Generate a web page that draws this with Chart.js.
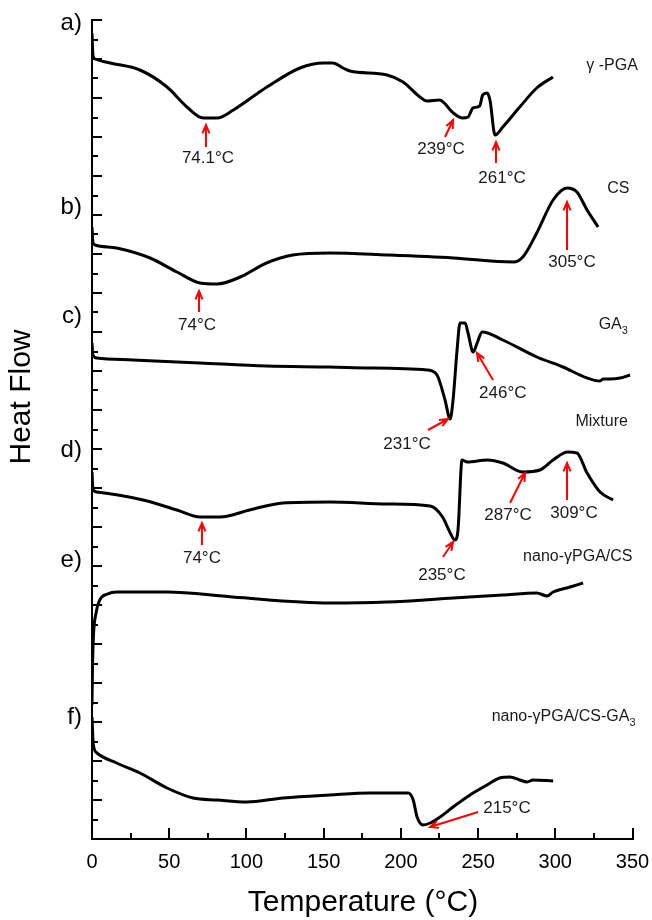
<!DOCTYPE html>
<html>
<head>
<meta charset="utf-8">
<script src="https://cdn.jsdelivr.net/npm/chart.js@4.4.1/dist/chart.umd.min.js"></script>
<style>
  body { margin: 0; background: #fff; }
  canvas { display: block; }
</style>
</head>
<body>
<canvas id="dsc_grafic" width="652" height="920"></canvas>
<script>
// curvas DSC (temperatura em °C, fluxo em unidades arbitrarias, ja deslocadas)
const temp_a = [0, 0.6, 2, 11.7, 31, 48.6, 61.5, 72, 81, 91.5, 113.3, 134.7, 150, 156, 162.5, 167, 191, 201.4, 212.4, 217, 225, 234, 240, 243.5, 246.7, 251, 253, 255.8, 257.7, 261, 266, 277, 288, 298.5];
const fluxo_a = [806, 784, 780, 776, 769, 752, 732, 721, 721, 729, 752, 771, 776, 776, 771, 768, 764, 757, 742, 738, 739, 726, 721, 722, 731, 733, 744, 746, 739, 704, 712, 732, 751, 762];

const temp_b = [0, 0.6, 2, 16, 37.6, 55, 70, 81, 96, 113, 130, 154, 191, 234, 272.7, 279, 288, 298.6, 307.6, 314, 320.6, 327.7];
const fluxo_b = [612, 597, 594, 591, 581, 567, 556, 555, 562, 576, 584, 586, 584, 581, 577, 582, 606, 639, 651, 647, 629, 612];

const temp_c = [0, 0.6, 3.2, 26.6, 70, 113, 154, 180, 217, 223.4, 228.6, 231.9, 233.8, 236.4, 238.3, 241.6, 243.5, 246.8, 249.4, 252.6, 266, 288, 305, 320.6, 329, 331, 335.5, 342, 348.4];
const fluxo_c = [496, 484, 481, 479, 476, 473, 472, 471, 469, 464, 439, 420, 439, 489, 516, 516, 506, 487, 496, 507, 499, 482, 472, 461, 458, 460, 460, 461, 464];

const temp_d = [0, 0.6, 3.2, 33, 55, 70, 83, 102, 123.7, 154, 191, 219, 227, 232, 235, 237, 239.6, 243, 256, 266, 279, 290, 298.6, 308, 314, 320.6, 329, 337.4];
const fluxo_d = [367, 350, 347, 339, 329, 322, 322, 329, 336, 337, 335, 333, 322, 306, 299, 309, 379, 377, 379, 376, 367, 369, 379, 387, 386, 366, 347, 339];

const temp_e = [0, 0.3, 1, 2.5, 5, 10, 16, 48.6, 91, 154, 191, 234, 266, 288, 294.7, 298.6, 309.6, 318];
const fluxo_e = [134, 170, 205, 225, 239, 245, 247, 247, 242, 236, 237, 241, 244, 246, 243, 247, 252, 256];

const temp_f = [0, 0.8, 3.2, 16, 31, 48.6, 65.4, 81, 100, 123.7, 154, 180, 204.7, 208, 210.5, 214.4, 219, 225.4, 233.8, 244.8, 255.8, 264, 270.7, 277, 281.7, 285.6, 298.6];
const fluxo_f = [122, 95, 86, 76, 66, 51, 41, 39, 37, 41, 44, 46, 46, 39, 22, 14, 16, 22, 32, 44, 54, 61, 62, 59, 57, 59, 58];

const amostras = ['γ -PGA', 'CS', 'GA', 'Mixture', 'nano-γPGA/CS', 'nano-γPGA/CS-GA'];
const indices = ['', '', '3', '', '', '3'];
const paineis = ['a)', 'b)', 'c)', 'd)', 'e)', 'f)'];
const ticks_x = [0, 50, 100, 150, 200, 250, 300, 350];

// setas vermelhas: ponta, cauda e posicao do texto (temperatura, fluxo)
const setas = [
    { texto: '74.1°C', ponta: [73.8, 714], cauda: [73.8, 692], rotulo: [75.1, 681] },
    { texto: '239°C', ponta: [233.8, 719], cauda: [228.6, 702], rotulo: [226, 690] },
    { texto: '261°C', ponta: [261.6, 697], cauda: [261.6, 676], rotulo: [265.5, 661] },
    { texto: '305°C', ponta: [307.6, 637], cauda: [307.6, 589], rotulo: [310.8, 577] },
    { texto: '74°C', ponta: [69.3, 548], cauda: [69.3, 527], rotulo: [68, 514] },
    { texto: '246°C', ponta: [249.3, 486], cauda: [259.7, 459], rotulo: [266, 446] },
    { texto: '231°C', ponta: [230.5, 420], cauda: [217.6, 409], rotulo: [204, 395] },
    { texto: '74°C', ponta: [71.2, 316], cauda: [71.2, 294], rotulo: [71.2, 281] },
    { texto: '235°C', ponta: [233.8, 297], cauda: [227.3, 282], rotulo: [226.6, 264] },
    { texto: '287°C', ponta: [280.4, 366], cauda: [270.7, 336], rotulo: [269.4, 324] },
    { texto: '309°C', ponta: [307.6, 376], cauda: [307.6, 339], rotulo: [312.1, 326] },
    { texto: '215°C', ponta: [218.9, 12], cauda: [250, 27], rotulo: [268.7, 31] }
];

// posicao dos nomes das amostras (borda direita) e das letras dos paineis
const pos_amostras = [[353.5, 773], [348, 650], [347, 514], [347, 417], [350, 282], [352, 122]];
const pos_paineis = [[-6.5, 816], [-6.5, 632], [-6.5, 523], [-6.5, 389], [-6.5, 279], [-6.5, 122]];

const fonte = '"Liberation Sans", Arial, sans-serif';
Chart.defaults.font.family = fonte;
Chart.defaults.color = '#000';

function juntar(temps, fluxos) {
    return temps.map(function(t, i) { return { x: t, y: fluxos[i] }; });
}

function curva(temps, fluxos) {
    return {
        data: juntar(temps, fluxos),
        borderColor: '#000',
        borderWidth: 3,
        pointRadius: 0,
        fill: false,
        cubicInterpolationMode: 'monotone'
    };
}

function desenhar_seta(ctx, x1, y1, x2, y2) {
    const ang = Math.atan2(y2 - y1, x2 - x1);
    const tam = 9;
    ctx.beginPath();
    ctx.moveTo(x1, y1);
    ctx.lineTo(x2, y2);
    ctx.moveTo(x2 - tam * Math.cos(ang - 0.4), y2 - tam * Math.sin(ang - 0.4));
    ctx.lineTo(x2, y2);
    ctx.lineTo(x2 - tam * Math.cos(ang + 0.4), y2 - tam * Math.sin(ang + 0.4));
    ctx.stroke();
}

const textos_plugin = {
    id: 'textos',
    afterDraw: function(chart) {
        const ctx = chart.ctx;
        const sx = chart.scales.x;
        const sy = chart.scales.y;
        ctx.save();

        // setas e temperaturas
        ctx.strokeStyle = '#ff0000';
        ctx.lineWidth = 2;
        ctx.fillStyle = '#1a1a1a';
        ctx.font = '17px ' + fonte;
        ctx.textAlign = 'center';
        ctx.textBaseline = 'middle';
        setas.forEach(function(s) {
            desenhar_seta(ctx, sx.getPixelForValue(s.cauda[0]), sy.getPixelForValue(s.cauda[1]),
                sx.getPixelForValue(s.ponta[0]), sy.getPixelForValue(s.ponta[1]));
            ctx.fillText(s.texto, sx.getPixelForValue(s.rotulo[0]), sy.getPixelForValue(s.rotulo[1]));
        });

        // nomes das amostras
        ctx.textAlign = 'right';
        amostras.forEach(function(nome, i) {
            let xr = sx.getPixelForValue(pos_amostras[i][0]);
            const yy = sy.getPixelForValue(pos_amostras[i][1]);
            if (indices[i]) {
                ctx.font = '11px ' + fonte;
                ctx.fillText(indices[i], xr, yy + 6);
                xr -= ctx.measureText(indices[i]).width;
            }
            ctx.font = '16px ' + fonte;
            ctx.fillText(nome, xr, yy);
        });

        // letras dos paineis
        ctx.fillStyle = '#000';
        ctx.font = '24px ' + fonte;
        paineis.forEach(function(p, i) {
            ctx.fillText(p, sx.getPixelForValue(pos_paineis[i][0]), sy.getPixelForValue(pos_paineis[i][1]));
        });

        // titulos dos eixos
        ctx.textAlign = 'center';
        ctx.font = '30px ' + fonte;
        ctx.fillText('Temperature (°C)', sx.getPixelForValue(175.5), sy.getPixelForValue(-64));
        ctx.translate(sx.getPixelForValue(-45.3), sy.getPixelForValue(442));
        ctx.rotate(-Math.PI / 2);
        ctx.fillText('Heat Flow', 0, 0);
        ctx.restore();
    }
};

// tira o espaco extra que o Chart.js reserva para os rotulos
function sem_margem(s) {
    s.paddingLeft = 0;
    s.paddingRight = 0;
    s.paddingTop = 0;
    s.paddingBottom = 0;
}

const ctx = document.getElementById('dsc_grafic').getContext('2d');

let myChart = new Chart(ctx, {
    type: 'line',
    data: {
        datasets: [
            curva(temp_a, fluxo_a),
            curva(temp_b, fluxo_b),
            curva(temp_c, fluxo_c),
            curva(temp_d, fluxo_d),
            curva(temp_e, fluxo_e),
            curva(temp_f, fluxo_f)
        ]
    },
    plugins: [textos_plugin],
    options: {
        responsive: false,
        animation: false,
        layout: { padding: { left: 92, right: 19.5, top: 20, bottom: 0 } },
        plugins: { legend: { display: false }, tooltip: { enabled: false } },
        scales: {
            x: {
                type: 'linear', position: 'bottom', min: 0, max: 350, weight: 1,
                afterBuildTicks: function(s) { s.ticks = ticks_x.map(function(v) { return { value: v }; }); },
                afterFit: function(s) { s.height = 81; sem_margem(s); },
                ticks: { font: { size: 20 }, color: '#000', padding: 22, maxRotation: 0 },
                grid: { drawOnChartArea: false, tickLength: -11, lineWidth: 2, color: '#000' },
                border: { color: '#000', width: 2 }
            },
            x2: {
                type: 'linear', position: 'bottom', min: 0, max: 350, weight: 0,
                afterFit: function(s) { s.height = 0; sem_margem(s); },
                ticks: { display: false, stepSize: 25 },
                grid: { drawOnChartArea: false, tickLength: -6, lineWidth: 2, color: '#000' },
                border: { display: false }
            },
            y: {
                position: 'left', min: 0, max: 819,
                afterFit: function(s) { s.width = 0; sem_margem(s); },
                ticks: { display: false, stepSize: 39 },
                grid: { drawOnChartArea: false, tickLength: -10, lineWidth: 2, color: '#000' },
                border: { color: '#000', width: 2 }
            },
            y2: {
                position: 'left', min: 0, max: 819,
                afterFit: function(s) { s.width = 0; sem_margem(s); },
                ticks: { display: false, stepSize: 19.5 },
                grid: { drawOnChartArea: false, tickLength: -6, lineWidth: 2, color: '#000' },
                border: { display: false }
            }
        }
    }
});
</script>
</body>
</html>
